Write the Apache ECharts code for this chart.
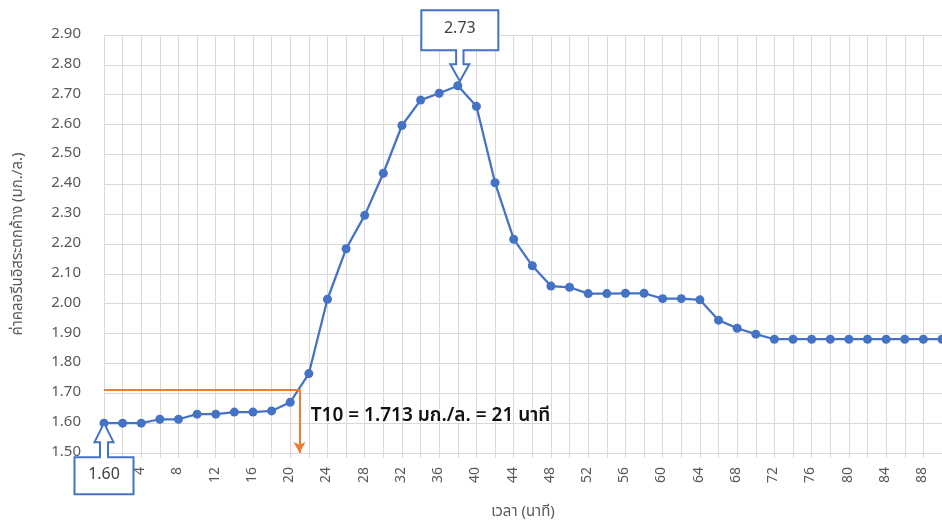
<!DOCTYPE html>
<html>
<head>
<meta charset="utf-8">
<script src="https://cdn.jsdelivr.net/npm/echarts@6/dist/echarts.min.js"></script>
<style>
  html, body { margin: 0; padding: 0; background: #fff; }
  #chart { width: 942px; height: 520px; }
</style>
</head>
<body>
<div id="chart"></div>
<script>
// Residual free chlorine over time (minutes)
const minutes = [0, 2, 4, 6, 8, 10, 12, 14, 16, 18, 20, 22, 24, 26, 28, 30, 32, 34, 36, 38,
  40, 42, 44, 46, 48, 50, 52, 54, 56, 58, 60, 62, 64, 66, 68, 70, 72, 74, 76, 78,
  80, 82, 84, 86, 88, 90];
const chlorine = [1.600, 1.600, 1.600, 1.613, 1.613, 1.630, 1.630, 1.637, 1.637, 1.641,
  1.670, 1.766, 2.015, 2.184, 2.296, 2.437, 2.597, 2.682, 2.705, 2.730,
  2.661, 2.405, 2.216, 2.127, 2.059, 2.055, 2.034, 2.034, 2.035, 2.035,
  2.017, 2.017, 2.013, 1.945, 1.918, 1.898, 1.881, 1.881, 1.881, 1.881,
  1.881, 1.881, 1.881, 1.881, 1.881, 1.881];

// Axis ranges and tick steps
const yTicks = ['1.50', '1.60', '1.70', '1.80', '1.90', '2.00', '2.10', '2.20', '2.30', '2.40',
  '2.50', '2.60', '2.70', '2.80', '2.90'];
const xMin = 0, xMax = 90, xStep = 2, xLabelStep = 4;

// T10 reading
const t10Value = 1.713;
const t10Time = 21;
const t10Text = 'T10 = 1.713 มก./ล. = 21 นาที';

const yMin = parseFloat(yTicks[0]);
const yMax = parseFloat(yTicks[yTicks.length - 1]);

const FONT = '"Noto Sans Thai", "Leelawadee UI", Tahoma, "Noto Sans", "DejaVu Sans", sans-serif';
const BLUE = '#4472C4';
const ORANGE = '#ED7D31';
const GRID = '#D9D9D9';
const TEXT = '#595959';

const chart = echarts.init(document.getElementById('chart'), null, { renderer: 'canvas' });

chart.setOption({
  animation: false,
  backgroundColor: '#fff',
  textStyle: { fontFamily: FONT },
  grid: { left: 104, right: 0, top: 35, bottom: 67, containLabel: false, outerBoundsMode: 'none' },
  xAxis: {
    type: 'value',
    min: xMin,
    max: xMax,
    interval: xStep,
    name: 'เวลา (นาที)',
    nameLocation: 'middle',
    nameGap: 52,
    nameTextStyle: { color: TEXT, fontSize: 15, fontFamily: FONT },
    axisLine: { show: true, lineStyle: { color: GRID, width: 1 } },
    axisTick: { show: true, length: 5, lineStyle: { color: GRID } },
    splitLine: { show: true, lineStyle: { color: GRID, width: 1 } },
    axisLabel: {
      rotate: 90,
      margin: 14,
      color: TEXT,
      fontSize: 14,
      fontFamily: FONT,
      formatter: v => (v > 0 && v % xLabelStep === 0) ? String(v) : ''
    }
  },
  yAxis: {
    type: 'value',
    min: yMin,
    max: yMax,
    interval: 0.1,
    name: 'ค่าคลอรีนอิสระตกค้าง (มก./ล.)',
    nameLocation: 'middle',
    nameGap: 78,
    nameRotate: 90,
    nameTextStyle: { color: TEXT, fontSize: 15, fontFamily: FONT },
    axisLine: { show: false },
    axisTick: { show: false },
    splitLine: { show: true, lineStyle: { color: GRID, width: 1 } },
    axisLabel: {
      margin: 23,
      color: TEXT,
      fontSize: 15,
      fontFamily: FONT,
      formatter: v => yTicks[Math.round((v - yMin) / 0.1)]
    }
  },
  series: [{
    type: 'line',
    data: minutes.map((m, i) => [m, chlorine[i]]),
    symbol: 'circle',
    symbolSize: 9,
    itemStyle: { color: BLUE },
    lineStyle: { color: BLUE, width: 2.25 },
    clip: false,
    z: 3,
    markLine: {
      silent: true,
      animation: false,
      label: { show: false },
      lineStyle: { color: ORANGE, width: 2, type: 'solid' },
      data: [
        [
          { coord: [xMin, t10Value], symbol: 'none' },
          { coord: [t10Time, t10Value], symbol: 'none' }
        ],
        [
          { coord: [t10Time, t10Value], symbol: 'none' },
          { coord: [t10Time, yMin], symbol: 'arrow', symbolSize: [9, 11] }
        ]
      ]
    }
  }]
});

// Callout boxes with outline arrows pointing at the first and peak readings
function calloutUp(px, py, text) {
  const cx = px;
  const hw = 29.5, bh = 37, sh = 4, hh = 9.5;
  const pts = [
    [cx, py], [cx + hh, py + 19], [cx + sh, py + 19], [cx + sh, py + 34],
    [cx + hw, py + 34], [cx + hw, py + 34 + bh], [cx - hw, py + 34 + bh], [cx - hw, py + 34],
    [cx - sh, py + 34], [cx - sh, py + 19], [cx - hh, py + 19]
  ];
  return [
    { type: 'polygon', shape: { points: pts }, style: { fill: '#fff', stroke: BLUE, lineWidth: 2 }, z: 10 },
    { type: 'text', x: cx, y: py + 34 + bh / 2, style: { text, fill: '#404040', font: '16px ' + FONT, align: 'center', verticalAlign: 'middle' }, z: 11 }
  ];
}
function calloutDown(px, py, text) {
  const cx = px + 2;
  const tip = py - 4.5;
  const hw = 38.5, bh = 40, sh = 3.7, hh = 9.5;
  const pts = [
    [cx, tip], [cx + hh, tip - 17], [cx + sh, tip - 17], [cx + sh, tip - 31],
    [cx + hw, tip - 31], [cx + hw, tip - 31 - bh], [cx - hw, tip - 31 - bh], [cx - hw, tip - 31],
    [cx - sh, tip - 31], [cx - sh, tip - 17], [cx - hh, tip - 17]
  ];
  return [
    { type: 'polygon', shape: { points: pts }, style: { fill: '#fff', stroke: BLUE, lineWidth: 2 }, z: 10 },
    { type: 'text', x: cx, y: tip - 31 - bh / 2, style: { text, fill: '#404040', font: '16px ' + FONT, align: 'center', verticalAlign: 'middle' }, z: 11 }
  ];
}

const peakIdx = chlorine.indexOf(Math.max.apply(null, chlorine));
const firstPx = chart.convertToPixel({ gridIndex: 0 }, [minutes[0], chlorine[0]]);
const peakPx = chart.convertToPixel({ gridIndex: 0 }, [minutes[peakIdx], chlorine[peakIdx]]);
const notePx = chart.convertToPixel({ gridIndex: 0 }, [t10Time + 1.2, 1.62]);

chart.setOption({
  graphic: [].concat(
    calloutUp(firstPx[0], firstPx[1], chlorine[0].toFixed(2)),
    calloutDown(peakPx[0], peakPx[1], chlorine[peakIdx].toFixed(2)),
    [{
      type: 'text', x: notePx[0], y: notePx[1],
      style: { text: t10Text, fill: '#111', font: '600 19px ' + FONT, align: 'left', verticalAlign: 'middle' },
      z: 12
    }]
  )
});
</script>
</body>
</html>
